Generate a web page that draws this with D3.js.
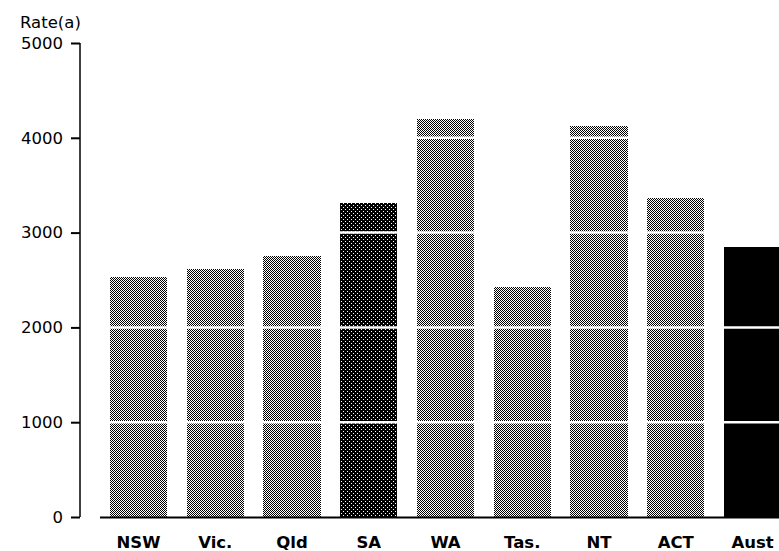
<!DOCTYPE html>
<html>
<head>
<meta charset="utf-8">
<script src="https://cdn.jsdelivr.net/npm/d3@7"></script>
<style>
  html, body { margin: 0; padding: 0; background: #fff; }
  svg { display: block; }
  text { font-family: "DejaVu Sans", "Liberation Sans", Arial, sans-serif; fill: #000; }
</style>
</head>
<body>
<svg id="chart" width="779" height="551"></svg>
<script>
// ---- data ----
const categories = ["NSW", "Vic.", "Qld", "SA", "WA", "Tas.", "NT", "ACT", "Aust"];
const rates      = [2535, 2615, 2755, 3310, 4195, 2425, 4125, 3370, 2850];
const shades     = ["mid", "mid", "mid", "dark", "mid", "mid", "mid", "mid", "black"];
const yTicks     = [0, 1000, 2000, 3000, 4000, 5000];
const gridValues = [1000, 2000, 3000, 4000];
const yTitle     = "Rate(a)";

const svg = d3.select("#chart");
const W = 779, H = 551;

const y = d3.scaleLinear().domain([0, 5000]).range([517, 43]);
const x = d3.scaleBand().domain(categories).range([110, 781])
  .paddingInner(0.2573).paddingOuter(0);

// dither patterns
const defs = svg.append("defs");
const mid = defs.append("pattern").attr("id", "mid")
  .attr("patternUnits", "userSpaceOnUse").attr("width", 2).attr("height", 2);
mid.append("rect").attr("width", 2).attr("height", 2).attr("fill", "#fff");
mid.append("rect").attr("x", 0).attr("y", 0).attr("width", 1).attr("height", 1).attr("fill", "#000");
mid.append("rect").attr("x", 1).attr("y", 1).attr("width", 1).attr("height", 1).attr("fill", "#000");

const dark = defs.append("pattern").attr("id", "dark")
  .attr("patternUnits", "userSpaceOnUse").attr("width", 4).attr("height", 4);
dark.append("rect").attr("width", 4).attr("height", 4).attr("fill", "#000");
dark.append("rect").attr("x", 1).attr("y", 1).attr("width", 1).attr("height", 1).attr("fill", "#fff");
dark.append("rect").attr("x", 3).attr("y", 3).attr("width", 1).attr("height", 1).attr("fill", "#fff");

const fillFor = s => s === "black" ? "#000" : (s === "dark" ? "url(#dark)" : "url(#mid)");

// bars
svg.append("g").attr("shape-rendering", "crispEdges")
  .selectAll("rect").data(categories).join("rect")
  .attr("x", d => x(d))
  .attr("y", (d, i) => y(rates[i]))
  .attr("width", x.bandwidth())
  .attr("height", (d, i) => y(0) - y(rates[i]))
  .attr("fill", (d, i) => fillFor(shades[i]));

// white grid lines across bars
svg.append("g").selectAll("line").data(gridValues).join("line")
  .attr("x1", 100).attr("x2", W)
  .attr("y1", d => y(d)).attr("y2", d => y(d))
  .attr("stroke", "#fff").attr("stroke-width", 2.5);

// y axis
const yAxis = svg.append("g").attr("transform", "translate(80,0)")
  .call(d3.axisLeft(y).tickValues(yTicks).tickSize(9).tickPadding(8).tickFormat(d3.format("d")));
yAxis.select(".domain").attr("stroke", "#000").attr("stroke-width", 1.5)
  .attr("d", `M0,${y(5000)}V${y(0)}`);
yAxis.selectAll(".tick line").attr("stroke", "#000").attr("stroke-width", 2);
yAxis.selectAll(".tick text").style("font-size", "16.5px")
  .style("font-family", "'DejaVu Sans', Arial, sans-serif").attr("fill", "#000");

// x axis line
svg.append("line").attr("x1", 100).attr("x2", W)
  .attr("y1", y(0) + 0.5).attr("y2", y(0) + 0.5)
  .attr("stroke", "#000").attr("stroke-width", 2);

// category labels
svg.append("g").selectAll("text").data(categories).join("text")
  .attr("x", d => x(d) + x.bandwidth() / 2)
  .attr("y", 548)
  .attr("text-anchor", "middle")
  .style("font-size", "16.5px")
  .style("font-weight", "bold")
  .text(d => d);

// y title
svg.append("text").attr("x", 20).attr("y", 28)
  .style("font-size", "16.5px")
  .text(yTitle);
</script>
</body>
</html>
